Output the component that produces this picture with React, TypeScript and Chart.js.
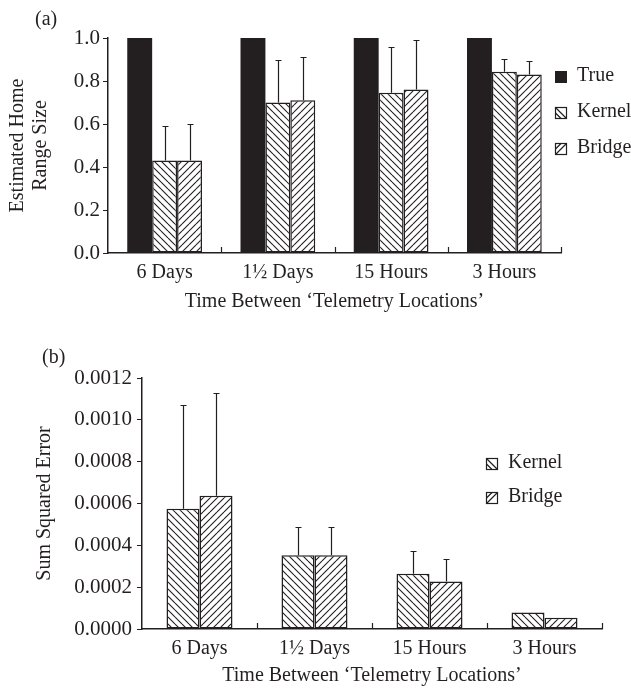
import React, { useEffect, useRef } from 'react';
import { Chart, registerables } from 'chart.js';

Chart.register(...registerables);

// ---------- data ----------
const categories = ['6 Days', '1½ Days', '15 Hours', '3 Hours'];

// Panel (a): estimated home range size
const trueRange = [1, 1, 1, 1];
const kernelRange = [0.43, 0.7, 0.745, 0.843];
const kernelRangeErr = [0.16, 0.2, 0.215, 0.058];
const bridgeRange = [0.43, 0.71, 0.76, 0.83];
const bridgeRangeErr = [0.17, 0.2, 0.23, 0.064];
const rangeTicks = { min: 0, max: 1, step: 0.2 };

// Panel (b): sum squared error
const kernelSSE = [0.000575, 0.000353, 0.000264, 0.000079];
const kernelSSEErr = [0.000495, 0.000133, 0.000108, 0];
const bridgeSSE = [0.000637, 0.000353, 0.000227, 0.000054];
const bridgeSSEErr = [0.000491, 0.000133, 0.00011, 0];
const sseTicks = { min: 0, max: 0.0012, step: 0.0002 };

const xTitle = 'Time Between ‘Telemetry Locations’';

// ---------- styles ----------
const FONT = "'Liberation Serif', 'Times New Roman', serif";
const INK = '#231f20';

function makeHatch(ctx: CanvasRenderingContext2D, dir: 'back' | 'fwd') {
  const s = 7;
  const c = document.createElement('canvas');
  c.width = s;
  c.height = s;
  const g = c.getContext('2d')!;
  g.fillStyle = '#ffffff';
  g.fillRect(0, 0, s, s);
  g.strokeStyle = INK;
  g.lineWidth = 1.1;
  g.beginPath();
  for (let k = -1; k <= 1; k++) {
    if (dir === 'back') {
      g.moveTo(0, k * s);
      g.lineTo(s, s + k * s);
    } else {
      g.moveTo(0, s + k * s);
      g.lineTo(s, k * s);
    }
  }
  g.stroke();
  return ctx.createPattern(c, 'repeat')!;
}

const errorBarPlugin = {
  id: 'errorBars',
  afterDatasetsDraw(chart: any) {
    const ctx = chart.ctx;
    const y = chart.scales.y;
    ctx.save();
    ctx.strokeStyle = INK;
    ctx.lineWidth = 1.2;
    chart.data.datasets.forEach((ds: any, i: number) => {
      if (!ds.errors) return;
      const meta = chart.getDatasetMeta(i);
      meta.data.forEach((bar: any, j: number) => {
        const e = ds.errors[j];
        if (!e) return;
        const top = Math.round(y.getPixelForValue(ds.data[j] + e)) + 0.5;
        const cx = Math.round(bar.x) + 0.5;
        ctx.beginPath();
        ctx.moveTo(cx, bar.y);
        ctx.lineTo(cx, top);
        ctx.moveTo(cx - 3, top);
        ctx.lineTo(cx + 3, top);
        ctx.stroke();
      });
    });
    ctx.restore();
  },
};

function boundaryTicks(len: number) {
  return {
    id: 'boundaryTicks',
    afterDraw(chart: any) {
      const x = chart.scales.x;
      const area = chart.chartArea;
      const ctx = chart.ctx;
      const n = chart.data.labels.length;
      ctx.save();
      ctx.strokeStyle = INK;
      ctx.lineWidth = 1.2;
      ctx.beginPath();
      for (let k = 1; k <= n; k++) {
        const px = Math.round(x.getPixelForValue(k - 0.5)) + 0.5;
        ctx.moveTo(px, area.bottom);
        ctx.lineTo(px, area.bottom - len);
      }
      ctx.stroke();
      ctx.restore();
    },
  };
}

function legendPlugin(dxFromRight: number, dyFirst: number, gap: number) {
  return {
    id: 'hatchLegend',
    afterDraw(chart: any) {
      const ctx = chart.ctx;
      const area = chart.chartArea;
      const s = 11;
      const bx = area.right - dxFromRight;
      ctx.save();
      ctx.font = `20px ${FONT}`;
      ctx.textBaseline = 'middle';
      ctx.textAlign = 'left';
      chart.data.datasets.forEach((ds: any, i: number) => {
        const cy = area.top + dyFirst + i * gap;
        const x0 = bx + 0.5;
        const y0 = Math.round(cy - s / 2) + 0.5;
        ctx.strokeStyle = INK;
        ctx.fillStyle = INK;
        ctx.lineWidth = 1.2;
        if (ds.hatch === 'solid') {
          ctx.fillRect(bx, Math.round(cy - s / 2), s + 1, s + 1);
        } else {
          ctx.strokeRect(x0, y0, s, s);
          ctx.beginPath();
          if (ds.hatch === 'back') {
            ctx.moveTo(x0, y0);
            ctx.lineTo(x0 + s, y0 + s);
            ctx.moveTo(x0, y0 + s / 2);
            ctx.lineTo(x0 + s / 2, y0 + s);
          } else {
            ctx.moveTo(x0, y0 + s);
            ctx.lineTo(x0 + s, y0);
            ctx.moveTo(x0, y0 + s / 2);
            ctx.lineTo(x0 + s / 2, y0);
          }
          ctx.stroke();
        }
        ctx.fillStyle = INK;
        ctx.fillText(ds.label, bx + 22, cy);
      });
      ctx.restore();
    },
  };
}

function panelLabel(text: string, x: number, y: number) {
  return {
    id: 'panelLabel',
    afterDraw(chart: any) {
      const ctx = chart.ctx;
      ctx.save();
      ctx.font = `20px ${FONT}`;
      ctx.fillStyle = INK;
      ctx.textBaseline = 'middle';
      ctx.textAlign = 'left';
      ctx.fillText(text, x, y);
      ctx.restore();
    },
  };
}

const tickFont = { family: FONT, size: 20 };
const yTickFont = { family: FONT, size: 21 };

function xScale(height: number, titlePadBottom: number) {
  return {
    grid: { display: false, drawTicks: false },
    border: { display: true, color: INK, width: 1.5 },
    ticks: { color: INK, font: tickFont, padding: 8, maxRotation: 0, autoSkip: false },
    title: {
      display: true,
      text: xTitle,
      color: INK,
      font: { family: FONT, size: 20, lineHeight: 1.2 },
      padding: { top: 0, bottom: titlePadBottom },
    },
    afterFit: (s: any) => {
      s.height = height;
    },
  };
}

export default function App() {
  const refA = useRef<HTMLCanvasElement>(null);
  const refB = useRef<HTMLCanvasElement>(null);

  useEffect(() => {
    const ctxA = refA.current!.getContext('2d')!;
    const ctxB = refB.current!.getContext('2d')!;

    const chartA = new Chart(refA.current!, {
      type: 'bar',
      data: {
        labels: categories,
        datasets: [
          { label: 'True', data: trueRange, backgroundColor: INK, borderWidth: 0, hatch: 'solid' } as any,
          {
            label: 'Kernel',
            data: kernelRange,
            errors: kernelRangeErr,
            backgroundColor: makeHatch(ctxA, 'back'),
            borderColor: INK,
            borderWidth: 1.5,
            borderSkipped: false,
            hatch: 'back',
          } as any,
          {
            label: 'Bridge',
            data: bridgeRange,
            errors: bridgeRangeErr,
            backgroundColor: makeHatch(ctxA, 'fwd'),
            borderColor: INK,
            borderWidth: 1.5,
            borderSkipped: false,
            hatch: 'fwd',
          } as any,
        ],
      },
      options: {
        responsive: false,
        animation: false,
        layout: { padding: { top: 38, right: 70, left: 0, bottom: 0 } },
        datasets: { bar: { categoryPercentage: 0.66, barPercentage: 1 } },
        plugins: { legend: { display: false }, tooltip: { enabled: false } },
        scales: {
          x: xScale(65, 4) as any,
          y: {
            min: rangeTicks.min,
            max: rangeTicks.max,
            ticks: {
              stepSize: rangeTicks.step,
              callback: (v: any) => Number(v).toFixed(1),
              color: INK,
              font: yTickFont,
              padding: 3,
            },
            grid: { drawOnChartArea: false, drawTicks: true, tickLength: 5, color: INK, tickColor: INK, lineWidth: 1 },
            border: { display: true, color: INK, width: 1.5 },
            title: {
              display: true,
              text: ['Estimated Home', 'Range Size'],
              color: INK,
              font: { family: FONT, size: 20, lineHeight: 1.15 },
              padding: { top: 6.5, bottom: 0 },
            },
            afterFit: (s: any) => {
              s.width = 108;
            },
          } as any,
        },
      },
      plugins: [errorBarPlugin, boundaryTicks(6), legendPlugin(6, 38, 36), panelLabel('(a)', 35, 20)],
    });

    const chartB = new Chart(refB.current!, {
      type: 'bar',
      data: {
        labels: categories,
        datasets: [
          {
            label: 'Kernel',
            data: kernelSSE,
            errors: kernelSSEErr,
            backgroundColor: makeHatch(ctxB, 'back'),
            borderColor: INK,
            borderWidth: 1.5,
            borderSkipped: false,
            hatch: 'back',
          } as any,
          {
            label: 'Bridge',
            data: bridgeSSE,
            errors: bridgeSSEErr,
            backgroundColor: makeHatch(ctxB, 'fwd'),
            borderColor: INK,
            borderWidth: 1.5,
            borderSkipped: false,
            hatch: 'fwd',
          } as any,
        ],
      },
      options: {
        responsive: false,
        animation: false,
        layout: { padding: { top: 48, right: 29, left: 0, bottom: 0 } },
        datasets: { bar: { categoryPercentage: 0.574, barPercentage: 1 } },
        plugins: { legend: { display: false }, tooltip: { enabled: false } },
        scales: {
          x: xScale(59, 0) as any,
          y: {
            min: sseTicks.min,
            max: sseTicks.max,
            ticks: {
              stepSize: sseTicks.step,
              callback: (v: any) => Number(v).toFixed(4),
              color: INK,
              font: yTickFont,
              padding: 5,
            },
            grid: { drawOnChartArea: false, drawTicks: true, tickLength: 5, color: INK, tickColor: INK, lineWidth: 1 },
            border: { display: true, color: INK, width: 1.5 },
            title: {
              display: true,
              text: 'Sum Squared Error',
              color: INK,
              font: { family: FONT, size: 20, lineHeight: 1.2 },
              padding: { top: 33, bottom: 0 },
            },
            afterFit: (s: any) => {
              s.width = 142;
            },
          } as any,
        },
      },
      plugins: [errorBarPlugin, boundaryTicks(6), legendPlugin(116, 85, 34), panelLabel('(b)', 42, 28)],
    });

    return () => {
      chartA.destroy();
      chartB.destroy();
    };
  }, []);

  return (
    <div style={{ position: 'fixed', left: 0, top: 0, width: 631, height: 688, background: '#ffffff' }}>
      <canvas
        ref={refA}
        width={631}
        height={318}
        style={{ position: 'absolute', left: 0, top: 0, width: 631, height: 318 }}
      />
      <canvas
        ref={refB}
        width={631}
        height={358}
        style={{ position: 'absolute', left: 0, top: 330, width: 631, height: 358 }}
      />
    </div>
  );
}
